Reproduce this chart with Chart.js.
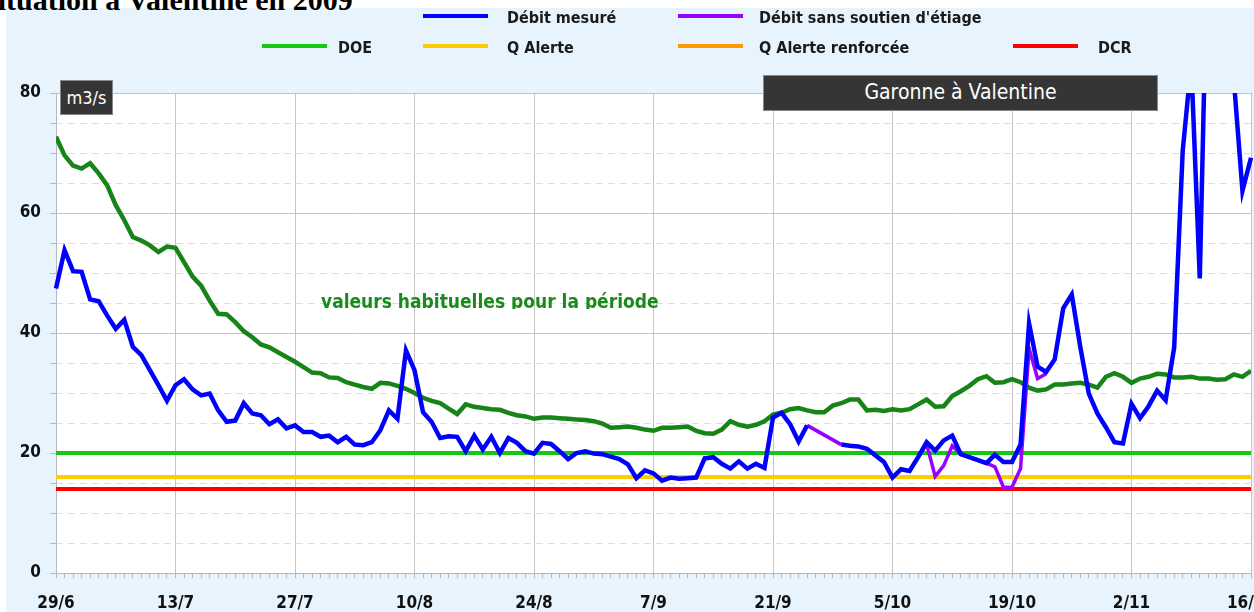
<!DOCTYPE html>
<html lang="fr">
<head>
<meta charset="utf-8">
<title>Garonne à Valentine en 2009</title>
<script src="https://cdn.jsdelivr.net/npm/chart.js@4.4.0/dist/chart.umd.min.js"></script>
<style>
  body {
    margin: 0;
    width: 1254px;
    height: 612px;
    overflow: hidden;
    position: relative;
    background: #fff;
    font-family: "DejaVu Sans Condensed", "DejaVu Sans", sans-serif;
  }
  #titre {
    position: absolute; left: -19px; top: -16px;
    font: bold 30px/31px "Liberation Serif", serif;
    white-space: nowrap; color: #000;
  }
  #panneau { position: absolute; left: 6px; top: 8px; right: 0; bottom: 0; background: #e8f4fd; }
  canvas { position: absolute; left: 0; top: 0; }
  .trait { position: absolute; width: 65px; height: 4px; }
  .libelle {
    position: absolute; font-weight: bold; font-size: 16px; line-height: 20px;
    white-space: nowrap; color: #1a1a1a;
  }
  .boite {
    position: absolute; background: #353535; border: 1px solid #888; color: #fff;
    text-align: center; box-sizing: border-box; white-space: nowrap;
  }
  #note {
    position: absolute; left: 321px; top: 290px; height: 19px; overflow: hidden;
    font-weight: bold; font-size: 19px; line-height: 22px; color: #1a8a1a; white-space: nowrap;
  }
</style>
</head>
<body>
<div id="panneau"></div>
<div id="titre">Situation à Valentine en 2009</div>
<canvas id="graphe" width="1254" height="612"></canvas>

<div class="trait" style="left:423px;top:14px;background:#0000ff"></div>
<div class="libelle" style="left:507px;top:8px">Débit mesuré</div>
<div class="trait" style="left:678px;top:14px;background:#9900ff"></div>
<div class="libelle" style="left:759px;top:8px">Débit sans soutien d'étiage</div>
<div class="trait" style="left:262px;top:44px;background:#14c814"></div>
<div class="libelle" style="left:338px;top:38px">DOE</div>
<div class="trait" style="left:423px;top:44px;background:#ffcc00"></div>
<div class="libelle" style="left:507px;top:38px">Q Alerte</div>
<div class="trait" style="left:678px;top:44px;background:#ff9900"></div>
<div class="libelle" style="left:759px;top:38px">Q Alerte renforcée</div>
<div class="trait" style="left:1013px;top:44px;background:#ff0000"></div>
<div class="libelle" style="left:1098px;top:38px">DCR</div>

<div class="boite" style="left:60px;top:80px;width:53px;height:35px;font-size:18px;line-height:33px">m3/s</div>
<div class="boite" style="left:763px;top:75px;width:395px;height:36px;font-size:21px;line-height:32px">Garonne à Valentine</div>
<div id="note">valeurs habituelles pour la période</div>

<script>
"use strict";

// Jours depuis le 29/6 (0 -> 140 = 16/11)
const jours = Array.from({ length: 141 }, (_, i) => i);
const tickLabels = ["29/6", "13/7", "27/7", "10/8", "24/8", "7/9", "21/9", "5/10", "19/10", "2/11", "16/11"];

// Seuils (m3/s)
const DOE = 20;
const Q_ALERTE = 16;
const Q_ALERTE_RENFORCEE = 14;
const DCR = 14;

const debitMesure = [
    47.4, 53.8, 50.3, 50.2, 45.6, 45.3, 42.9, 40.7, 42.2, 37.7,
    36.3, 33.8, 31.3, 28.7, 31.3, 32.3, 30.6, 29.6, 29.9, 27.1,
    25.2, 25.4, 28.3, 26.6, 26.3, 24.8, 25.6, 24.1, 24.6, 23.5,
    23.5, 22.7, 22.9, 21.8, 22.7, 21.4, 21.3, 21.8, 23.8, 27.1,
    25.7, 37.1, 33.8, 26.8, 25.2, 22.5, 22.8, 22.7, 20.3, 22.9,
    20.6, 22.7, 20.0, 22.5, 21.7, 20.3, 19.9, 21.7, 21.5, 20.3,
    19.0, 20.0, 20.3, 19.9, 19.8, 19.4, 19.0, 18.1, 15.8, 17.1,
    16.6, 15.4, 15.9, 15.7, 15.8, 15.9, 19.1, 19.3, 18.2, 17.4,
    18.6, 17.4, 18.2, 17.5, 25.9, 26.7, 24.8, 21.9, 24.6, null,
    null, null, 21.4, 21.2, 21.1, 20.7, 19.6, 18.5, 15.9, 17.3,
    17.0, 19.3, 21.8, 20.4, 22.1, 22.9, 19.8, 19.3, 18.8, 18.3,
    19.7, 18.5, 18.5, 21.4, 41.6, 34.4, 33.5, 35.6, 44.1, 46.4,
    37.7, 29.9, 26.6, 24.3, 21.8, 21.6, 28.2, 25.8, 27.8, 30.4,
    28.8, 37.6, 70.4, 85.0, 49.1, 112.0, 120.0, 105.0, 82.0, 63.7,
    69.2,
];

// Débit reconstitué sans soutien d'étiage (seulement là où il s'écarte du débit mesuré)
const debitSansSoutien = [
    null, null, null, null, null, null, null, null, null, null,
    null, null, null, null, null, null, null, null, null, null,
    null, null, null, null, null, null, null, null, null, null,
    null, null, null, null, null, null, null, null, null, null,
    null, null, null, null, null, null, null, null, null, null,
    null, null, null, null, null, null, null, null, null, null,
    null, null, null, null, null, null, null, null, null, null,
    null, null, null, null, null, null, null, null, null, null,
    null, null, null, null, null, null, null, null, 24.6, null,
    null, null, 21.4, null, null, null, null, null, null, null,
    null, 19.3, 21.5, 16.1, 17.9, 21.2, 19.8, 19.3, 18.8, 18.3,
    17.7, 14.3, 14.3, 17.4, 37.4, 32.4, 33.2, null, null, null,
    null, null, null, null, null, null, null, null, null, null,
    null, null, null, null, null, null, null, null, null, null,
    null,
];

const valeursHabituelles = [
    72.7, 69.6, 67.9, 67.4, 68.3, 66.6, 64.6, 61.3, 58.8, 56.0,
    55.4, 54.6, 53.5, 54.4, 54.2, 51.8, 49.4, 47.9, 45.4, 43.2,
    43.1, 41.8, 40.3, 39.3, 38.1, 37.6, 36.8, 36.0, 35.2, 34.3,
    33.4, 33.3, 32.6, 32.5, 31.8, 31.4, 31.0, 30.7, 31.7, 31.6,
    31.2, 30.7, 30.0, 29.2, 28.7, 28.3, 27.4, 26.5, 28.1, 27.7,
    27.5, 27.3, 27.2, 26.7, 26.3, 26.1, 25.7, 25.9, 25.9, 25.8,
    25.7, 25.6, 25.5, 25.3, 24.9, 24.2, 24.3, 24.4, 24.2, 23.9,
    23.7, 24.2, 24.2, 24.3, 24.4, 23.7, 23.3, 23.2, 23.9, 25.3,
    24.7, 24.4, 24.7, 25.3, 26.4, 26.7, 27.3, 27.5, 27.1, 26.8,
    26.8, 27.9, 28.3, 28.9, 28.9, 27.1, 27.2, 27.0, 27.3, 27.1,
    27.3, 28.1, 28.9, 27.7, 27.8, 29.5, 30.3, 31.2, 32.3, 32.8,
    31.7, 31.8, 32.3, 31.8, 30.9, 30.4, 30.6, 31.4, 31.4, 31.6,
    31.7, 31.4, 30.9, 32.7, 33.3, 32.7, 31.7, 32.4, 32.7, 33.2,
    33.1, 32.6, 32.6, 32.7, 32.4, 32.4, 32.2, 32.3, 33.1, 32.7,
    33.7,
];

const FONT = "'DejaVu Sans Condensed', 'DejaVu Sans', sans-serif";
const TRANSPARENT = "rgba(0,0,0,0)";

// points du débit sans soutien, sans les jours vides
const pointsSansSoutien = jours
    .filter((j) => debitSansSoutien[j] !== null)
    .map((j) => ({ x: j, y: debitSansSoutien[j] }));

const seuil = (v) => [{ x: jours[0], y: v }, { x: jours[jours.length - 1], y: v }];

const ligne = (label, data, color, width, extra) => Object.assign({
    label: label,
    data: data,
    borderColor: color,
    backgroundColor: color,
    borderWidth: width,
    pointRadius: 0,
    tension: 0,
    fill: false,
}, extra || {});

// fond blanc de la zone de tracé
const fondBlanc = {
    id: "fondBlanc",
    beforeDraw(chart) {
        const { ctx, chartArea: a } = chart;
        ctx.save();
        ctx.fillStyle = "#ffffff";
        ctx.fillRect(a.left, a.top, a.right - a.left, a.bottom - a.top);
        ctx.restore();
    },
};

const data = {
    labels: jours,
    datasets: [
        ligne("Débit mesuré", debitMesure, "#0000ff", 4.5, { clip: { left: 4, right: 4, top: 0, bottom: 4 } }),
        ligne("Débit sans soutien d'étiage", pointsSansSoutien, "#9900ff", 3.5, { spanGaps: 4 }),
        ligne("DCR", seuil(DCR), "#ff0000", 4),
        ligne("Q Alerte renforcée", seuil(Q_ALERTE_RENFORCEE), "#ff9900", 4),
        ligne("Q Alerte", seuil(Q_ALERTE), "#ffcc00", 4),
        ligne("DOE", seuil(DOE), "#14c814", 4),
        ligne("valeurs habituelles pour la période", valeursHabituelles, "#168416", 4.5),
    ],
};

const config = {
    type: "line",
    data: data,
    plugins: [fondBlanc],
    options: {
        responsive: false,
        animation: false,
        layout: { padding: { top: 93, right: 3, bottom: 0, left: 0 } },
        plugins: {
            legend: { display: false },
            tooltip: { enabled: false },
        },
        scales: {
            x: {
                type: "linear",
                min: 0,
                max: 140,
                afterFit: (s) => { s.height = 39; s.paddingLeft = 0; s.paddingRight = 0; },
                ticks: {
                    stepSize: 1,
                    autoSkip: false,
                    maxRotation: 0,
                    minRotation: 0,
                    padding: 15,
                    color: "#111",
                    font: { family: FONT, size: 17, weight: "bold" },
                    callback: (v) => (v % 14 === 0 ? tickLabels[v / 14] : ""),
                },
                grid: {
                    color: (c) => (c.tick && c.tick.value % 14 === 0 ? "#c4c4c4" : TRANSPARENT),
                    tickColor: "#b8b8b8",
                    tickLength: 5,
                },
                border: { color: "#b8b8b8" },
            },
            y: {
                position: "left",
                min: 0,
                max: 80,
                afterFit: (s) => { s.width = 56; },
                ticks: {
                    stepSize: 5,
                    padding: 9,
                    color: "#111",
                    font: { family: FONT, size: 17, weight: "bold" },
                    callback: (v) => (v % 20 === 0 ? v : ""),
                },
                grid: {
                    color: (c) => (c.tick && c.tick.value % 20 === 0 ? "#c4c4c4" : TRANSPARENT),
                    tickColor: "#b8b8b8",
                    tickLength: 6,
                },
                border: { color: "#b8b8b8" },
            },
            // lignes pointillées intermédiaires (tous les 5 m3/s)
            yPointille: {
                position: "right",
                min: 0,
                max: 80,
                afterFit: (s) => { s.width = 0; },
                ticks: { stepSize: 5, display: false },
                grid: {
                    drawTicks: false,
                    color: (c) => (c.tick && c.tick.value % 20 !== 0 ? "#dedede" : TRANSPARENT),
                },
                border: { display: false, dash: [7, 5] },
            },
        },
    },
};

const myChart = new Chart(document.getElementById("graphe"), config);
</script>
</body>
</html>
